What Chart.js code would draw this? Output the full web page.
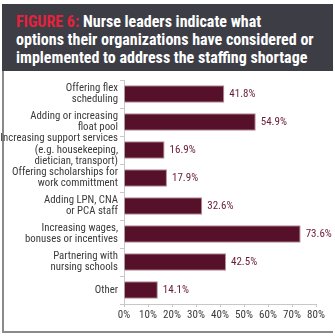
<!DOCTYPE html>
<html>
<head>
<meta charset="utf-8">
<script src="https://cdn.jsdelivr.net/npm/chart.js@4/dist/chart.umd.min.js"></script>
<style>
  html, body { margin: 0; padding: 0; background: #fff; }
  body { width: 335px; height: 336px; position: relative; overflow: hidden; }
  #header {
    position: absolute; left: 2px; top: 4px; width: 331px; height: 67px;
    background: #3c3d45; box-sizing: border-box; padding: 9px 0 0 14px;
    font-family: "Roboto Condensed", "DejaVu Sans Condensed", sans-serif;
    font-weight: bold; font-size: 16px; line-height: 18px; color: #fff; white-space: nowrap;
  }
  #header .fig { color: #e3223e; }
  #frame {
    position: absolute; left: 2px; top: 71px; width: 331px; height: 262px;
    border-left: 2px solid #8a8a8a; border-bottom: 2px solid #8a8a8a; box-sizing: border-box;
  }
  #wrap { position: absolute; left: 0; top: 72px; width: 335px; height: 264px; }
</style>
</head>
<body>
<div id="header"><span class="fig">FIGURE 6:</span> Nurse leaders indicate what<br>options their organizations have considered or<br>implemented to address the staffing shortage</div>
<div id="frame"></div>
<div id="wrap"><canvas id="c"></canvas></div>
<script>
// Survey options, one entry per bar (multi-line labels as arrays)
const categories = [
  ["Offering flex", "scheduling"],
  ["Adding or increasing", "float pool"],
  ["Increasing support services", "(e.g. housekeeping,", "dietician, transport)"],
  ["Offering scholarships for", "work committment"],
  ["Adding LPN, CNA", "or PCA staff"],
  ["Increasing wages,", "bonuses or incentives"],
  ["Partnering with", "nursing schools"],
  ["Other"]
];
// Share of nurse leaders (%)
const percentages = [41.8, 54.9, 16.9, 17.9, 32.6, 73.6, 42.5, 14.1];
const xTicks = [0, 10, 20, 30, 40, 50, 60, 70, 80];

const FONT = '"Roboto Condensed", "DejaVu Sans Condensed", sans-serif';

// Writes each bar's percentage just past its end
const valueLabels = {
  id: 'valueLabels',
  afterDatasetsDraw(chart) {
    const ctx = chart.ctx;
    const meta = chart.getDatasetMeta(0);
    ctx.save();
    ctx.font = '11px ' + FONT;
    ctx.fillStyle = '#6a1a34';
    ctx.textAlign = 'left';
    ctx.textBaseline = 'middle';
    meta.data.forEach((bar, i) => {
      ctx.fillText(percentages[i].toFixed(1) + '%', bar.x + 5, bar.y);
    });
    ctx.restore();
  }
};

new Chart(document.getElementById('c'), {
  type: 'bar',
  data: {
    labels: categories,
    datasets: [{
      data: percentages,
      backgroundColor: '#561029',
      borderColor: '#b58e98',
      borderWidth: 1,
      borderSkipped: 'left',
      categoryPercentage: 1,
      barPercentage: 0.62
    }]
  },
  options: {
    indexAxis: 'y',
    responsive: true,
    maintainAspectRatio: false,
    animation: false,
    layout: { padding: { top: 8, right: 19, bottom: 12, left: 0 } },
    plugins: { legend: { display: false }, tooltip: { enabled: false } },
    scales: {
      y: {
        afterFit(scale) { scale.width = 124; },
        grid: { drawOnChartArea: false, tickLength: 4, color: '#c8c8c8' },
        border: { color: '#c8c8c8' },
        ticks: {
          color: '#3a3a3a', padding: 2, autoSkip: false,
          font: { family: FONT, size: 10.8, lineHeight: 1.05 }
        }
      },
      x: {
        min: 0, max: 80,
        afterFit(scale) { scale.height = 20; },
        afterBuildTicks(scale) { scale.ticks = xTicks.map(v => ({ value: v })); },
        grid: { drawOnChartArea: false, tickLength: 3, color: '#c8c8c8' },
        border: { color: '#c8c8c8' },
        ticks: {
          color: '#3a3a3a', padding: 2, autoSkip: false, maxRotation: 0, minRotation: 0,
          font: { family: FONT, size: 11 },
          callback: v => v + '%'
        }
      }
    }
  },
  plugins: [valueLabels]
});
</script>
</body>
</html>
